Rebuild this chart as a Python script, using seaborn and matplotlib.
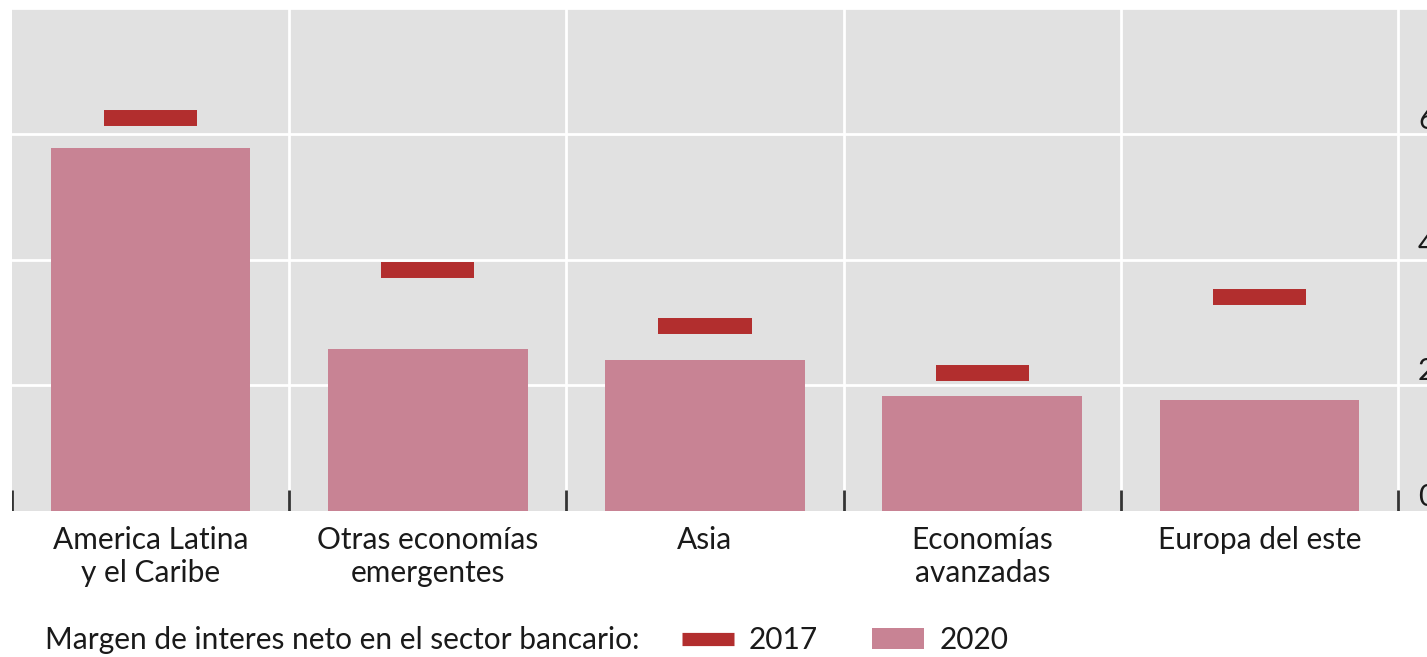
import matplotlib
matplotlib.use("Agg")
import matplotlib.pyplot as plt
import seaborn as sns
import pandas as pd
from matplotlib.lines import Line2D
from matplotlib.patches import Patch

# data
categories = ["America Latina\ny el Caribe", "Otras economías\nemergentes", "Asia",
              "Economías\navanzadas", "Europa del este"]
values_2020 = [5.78, 2.57, 2.40, 1.83, 1.76]
values_2017 = [6.25, 3.83, 2.94, 2.20, 3.40]
yticks = [0, 2, 4, 6]

RED = "#b22e2e"
PINK = "#c88394"
BG = "#e1e1e1"
TXT = "#1a1a1a"

sns.set_theme(style="white")
plt.rcParams["font.family"] = ["Lato", "DejaVu Sans"]

W, H = 1427, 657
FS = 21.5
fig = plt.figure(figsize=(W / 100, H / 100), dpi=100)
ax = fig.add_axes([12 / W, 146 / H, (W - 12) / W, 503 / H])
ax.set_facecolor(BG)

df = pd.DataFrame({"cat": categories, "v2020": values_2020, "v2017": values_2017})
sns.barplot(data=df, x="cat", y="v2020", color=PINK, saturation=1, width=0.72,
            linewidth=0, edgecolor="none", ax=ax, zorder=2)

# 2017 markers as short thick horizontal segments
xs = range(len(categories))
ax.hlines(df["v2017"], [x - 0.168 for x in xs], [x + 0.168 for x in xs],
          colors=RED, linewidth=11.5, capstyle="butt", zorder=3)

ax.set_xlim(-0.5, 4.5 + 29 / 277.6)
ax.set_ylim(0, 8)

# white grid: horizontal at ticks, vertical at category boundaries
for y in yticks[1:] + [8]:
    ax.axhline(y, color="white", lw=2, zorder=1)
for b in [0.5, 1.5, 2.5, 3.5, 4.5]:
    ax.axvline(b, color="white", lw=2, zorder=1)
    ax.plot([b, b], [0, 0.33], color="#333333", lw=2, zorder=4, solid_capstyle="butt")
ax.plot([-0.5, -0.5], [0, 0.33], color="#333333", lw=2, zorder=4, solid_capstyle="butt")

for s in ax.spines.values():
    s.set_visible(False)

ax.set_xlabel("")
ax.set_ylabel("")
ax.tick_params(axis="x", length=0, pad=11, labelsize=FS, labelcolor=TXT)
ax.yaxis.tick_right()
ax.set_yticks(yticks)
ax.set_yticklabels([str(t) for t in yticks])
ax.tick_params(axis="y", length=0, pad=-9 * 0.72, labelsize=FS, labelcolor=TXT)
for lab in ax.get_yticklabels():
    lab.set_verticalalignment("bottom")
    lab.set_horizontalalignment("left")
for lab in ax.get_xticklabels():
    lab.set_linespacing(1.2)

# legend
fig.text(45 / W, (H - 649) / H, "Margen de interes neto en el sector bancario:",
         fontsize=FS, color=TXT, va="baseline", ha="left")
handles = [Line2D([0], [0], color=RED, lw=9.5, solid_capstyle="butt"),
           Patch(facecolor=PINK, edgecolor="none")]
fig.legend(handles, ["2017", "2020"], loc="lower left",
           bbox_to_anchor=(661 / W, -18 / H), ncol=2, frameon=False, fontsize=FS,
           handlelength=1.75, handletextpad=0.5, columnspacing=1.8, borderpad=0.2,
           labelcolor=TXT)

fig.savefig("out.png", dpi=100)
